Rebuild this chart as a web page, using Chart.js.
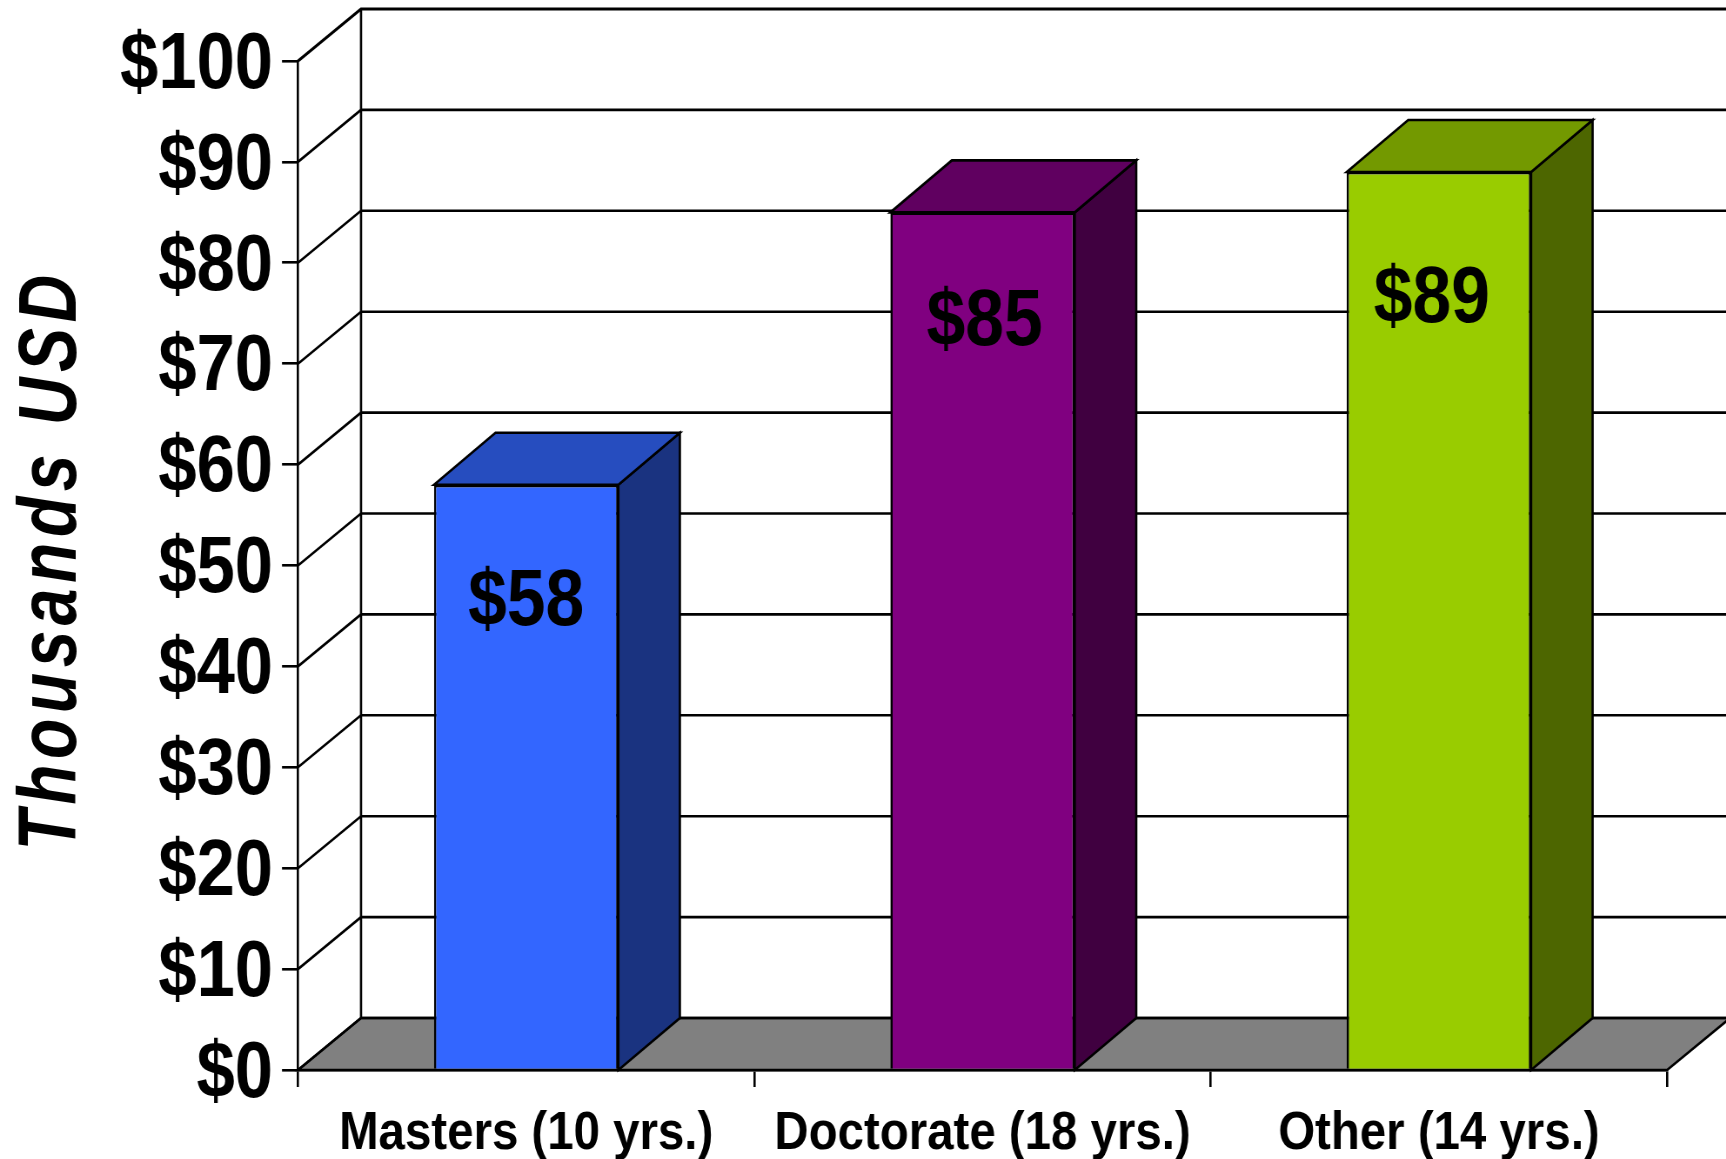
<!DOCTYPE html>
<html><head><meta charset="utf-8">
<style>html,body{margin:0;padding:0;background:#fff;overflow:hidden;width:1726px;height:1159px}
#wrap{width:1726px;height:1159px;overflow:hidden}
canvas{display:block;transform-origin:0 0}</style>
<script src="https://cdn.jsdelivr.net/npm/chart.js@4"></script>
</head><body><div id="wrap"><canvas id="c"></canvas></div>
<script>
const categories = ['Masters (10 yrs.)','Doctorate (18 yrs.)','Other (14 yrs.)'];
const salaries = [58,85,89];
const frontColors = ['#3366FF','#800080','#99CC00'];
const topColors = ['#264DBF','#600060','#739900'];
const sideColors = ['#1A3380','#400040','#4D6600'];
const yTicksMax = 100, yTickStep = 10;
const yTitle = 'Thousands USD';

const SX = 0.87;
const L = x => x / SX;
const W = 1726 / SX, H = 1159;
const WALL_DX = L(63), BAR_DX = L(61.5), DY = 52;
const labelDrop = [118,111,128];
const labelShift = [0,L(2),L(-7)];
const LW = 2.6;

const cv = document.getElementById('c');
cv.width = Math.round(W); cv.height = H;
cv.style.transform = 'scaleX(' + SX + ')';
const FONT = '"Liberation Sans", Arial, sans-serif';

const depth = {
  id:'depth',
  afterUpdate(ch){
    ch.scales.y.getLabelItems(ch.chartArea).forEach(it => { it.textOffset += 5; });
  },
  beforeDraw(ch){
    const c = ch.ctx, y = ch.scales.y, a = ch.chartArea;
    c.save();
    c.strokeStyle = '#000'; c.lineWidth = LW;
    const y0 = y.getPixelForValue(0);
    c.beginPath();
    c.moveTo(a.left,y0); c.lineTo(a.left+WALL_DX,y0-DY); c.lineTo(a.right+WALL_DX,y0-DY); c.lineTo(a.right,y0); c.closePath();
    c.fillStyle = '#808080'; c.fill(); c.stroke();
    y.ticks.forEach(t => {
      const p = y.getPixelForValue(t.value);
      c.lineWidth = t.value === yTicksMax ? 3 : LW;
      c.beginPath(); c.moveTo(a.left,p); c.lineTo(a.left+WALL_DX,p-DY); c.lineTo(W+5,p-DY); c.stroke();
    });
    c.lineWidth = LW;
    c.beginPath(); c.moveTo(a.left+WALL_DX,y.getPixelForValue(yTicksMax)-DY); c.lineTo(a.left+WALL_DX,y0-DY); c.stroke();
    c.translate(L(76),560);
    c.rotate(-Math.PI/2);
    c.scale(1,1.43);
    c.font = 'italic bold 66px ' + FONT;
    c.letterSpacing = '5.5px';
    c.fillStyle = '#000'; c.textAlign = 'center'; c.textBaseline = 'alphabetic';
    c.fillText(yTitle,0,0);
    c.restore();
  },
  beforeDatasetsDraw(ch){
    const c = ch.ctx, meta = ch.getDatasetMeta(0), y0 = ch.scales.y.getPixelForValue(0);
    c.save(); c.strokeStyle = '#000'; c.lineWidth = LW; c.lineJoin = 'miter';
    meta.data.forEach((b,i) => {
      const l = b.x-b.width/2, r = b.x+b.width/2, t = b.y;
      c.beginPath(); c.moveTo(r,t); c.lineTo(r+BAR_DX,t-DY); c.lineTo(r+BAR_DX,y0-DY); c.lineTo(r,y0); c.closePath();
      c.fillStyle = sideColors[i]; c.fill(); c.stroke();
      c.beginPath(); c.moveTo(l,t); c.lineTo(l+BAR_DX,t-DY); c.lineTo(r+BAR_DX,t-DY); c.lineTo(r,t); c.closePath();
      c.fillStyle = topColors[i]; c.fill(); c.stroke();
    });
    c.restore();
  },
  afterDatasetsDraw(ch){
    const c = ch.ctx, meta = ch.getDatasetMeta(0);
    c.save();
    c.font = 'bold 80px ' + FONT; c.fillStyle = '#000'; c.textAlign = 'center'; c.textBaseline = 'middle';
    meta.data.forEach((b,i) => c.fillText('$'+salaries[i], b.x+labelShift[i], b.y+labelDrop[i]));
    c.restore();
  }
};

new Chart(cv,{
  type:'bar',
  data:{labels:categories,datasets:[{data:salaries,backgroundColor:frontColors,borderColor:'#000',borderWidth:LW,
    categoryPercentage:1,barPercentage:0.404}]},
  plugins:[depth],
  options:{
    responsive:false,animation:false,devicePixelRatio:1,
    layout:{padding:{top:61,right:W-L(1667),left:0,bottom:0}},
    plugins:{legend:{display:false},tooltip:{enabled:false}},
    scales:{
      x:{
        afterFit:s=>{s.height=H-1070;},
        offset:true,
        grid:{display:true,offset:true,drawOnChartArea:false,drawTicks:true,tickLength:17,color:'#000',lineWidth:LW},
        border:{display:true,color:'#000',width:LW},
        ticks:{autoSkip:false,maxRotation:0,minRotation:0,padding:14,color:'#000',font:{family:FONT,size:54.5,weight:'bold'}}
      },
      y:{
        afterFit:s=>{s.width=L(298);},
        min:0,max:yTicksMax,
        grid:{display:true,drawOnChartArea:false,drawTicks:true,tickLength:L(16),color:'#000',lineWidth:LW},
        border:{display:true,color:'#000',width:LW},
        ticks:{stepSize:yTickStep,padding:L(9),color:'#000',callback:v=>'$'+v,font:{family:FONT,size:79,weight:'bold'}}
      }
    }
  }
});
</script></body></html>
